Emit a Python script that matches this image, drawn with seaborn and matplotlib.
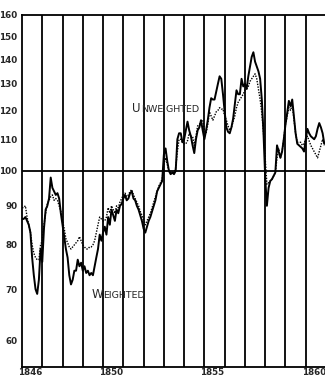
'''
Weighted vs unweighted price index, monthly 1846-1860 (log scale)
'''

import numpy as np
import pandas as pd
import matplotlib
matplotlib.use("Agg")
import matplotlib.pyplot as plt
import seaborn as sns

# monthly readings, Jan 1846 .. Dec 1860
weighted = [
    86.5, 86.5, 87, 86, 85, 83, 77, 73, 70, 69, 72, 79,            # 1846
    76, 84, 89, 90, 92, 98, 95, 94, 93, 93.5, 92, 88,              # 1847
    85, 82, 79, 77, 73, 71, 72, 74, 74, 76.5, 75, 75.8,            # 1848
    74, 75, 73.5, 74, 73, 73.5, 73, 75, 77, 79, 82.5, 81,          # 1849
    83, 84.5, 82.5, 87, 85, 89, 87.5, 86, 89, 88, 90, 90.5,        # 1850
    92, 93, 91.5, 92, 93.5, 94, 92, 91.5, 90, 89, 87.5, 86,        # 1851
    84, 83, 84.5, 86, 87, 88.5, 90, 91.5, 94, 95, 96, 97,          # 1852
    105, 107, 103, 100, 99, 99.5, 99, 100, 110, 112, 112, 109,     # 1853
    110, 113, 116, 113, 111, 108, 105.5, 110, 113, 114, 116.5, 113,  # 1854
    110, 113, 116.5, 121, 124.5, 124, 124, 127, 130, 133, 132, 126,  # 1855
    119.5, 114, 112.5, 112, 114, 117, 122, 127.5, 126, 126, 132, 129,  # 1856
    130, 128, 133, 137, 141, 143, 139, 137, 135, 132, 124, 112,    # 1857
    98, 90, 95, 97, 97.5, 98.5, 99.5, 108, 106, 104, 106, 110,     # 1858
    115, 119, 123.5, 121.5, 124, 118, 112, 108.5, 108, 107.5, 107, 106,  # 1859
    110, 113.5, 112, 111, 110.5, 110, 111, 113.5, 115.5, 114, 112, 108.5,  # 1860
]
unweighted = [
    89.5, 89.5, 90, 87, 85, 83, 80, 78, 77, 76.5, 76.5, 80,
    81, 85, 88, 90.5, 91.5, 92.5, 93, 91.5, 92, 91.5, 90, 88.5,
    86, 84, 81.5, 80.5, 79.5, 79, 79.5, 80, 80.5, 81, 82, 81,
    80, 79.5, 79, 79, 79.5, 79.5, 80, 81, 83, 85, 87, 86.5,
    86, 86, 87, 89.5, 88, 90, 89, 88, 90, 89.5, 91, 92,
    93, 93.5, 92.5, 93, 94, 94.5, 93, 92, 91, 90, 88.5, 87.5,
    86, 85, 86, 87, 88, 89.5, 91, 92.5, 94, 95.5, 96.5, 97.5,
    102, 104, 102, 100, 99.5, 99.5, 99.5, 101, 106, 110, 110, 109,
    108.5, 108.5, 109.5, 112, 111, 111, 108, 111, 114.5, 115, 116, 116.5,
    113, 112, 115, 119.5, 118, 116.5, 118, 119.5, 120, 121, 120.5, 120.5,
    118, 116.5, 114.5, 113, 114, 116, 118, 121, 123, 124, 125, 126,
    127.5, 128, 129, 131, 132, 133, 134, 132, 128, 124, 119, 112,
    104, 96, 96.5, 97, 97.5, 98.5, 99.5, 104, 107, 104, 106, 110,
    115, 118, 121, 120, 122, 117, 112, 109, 109, 109, 108, 108.5,
    110, 111, 109.5, 108, 107, 106, 105, 104, 106, 108, 110, 108,
]
start_year = 1846
y_ticks = [60, 70, 80, 90, 100, 110, 120, 130, 140, 150, 160]
year_labels = [1846, 1850, 1855, 1860]

t = start_year + np.arange(len(weighted)) / 12
df = pd.DataFrame({"date": np.concatenate([t, t]),
                   "index": weighted + unweighted,
                   "series": ["Weighted"] * len(t) + ["Unweighted"] * len(t)})

sns.set_style("white")
plt.rcParams["font.family"] = ["Liberation Sans Narrow", "DejaVu Sans"]

fig = plt.figure(figsize=(3.25, 3.79), dpi=100)
ax = fig.add_axes([22 / 325, 1 - 366.7 / 379, 304 / 325, (366.7 - 15) / 379])

# year grid and the 100 line
for yr in range(start_year + 1, start_year + 15):
    ax.axvline(yr, color="black", lw=1.3, zorder=1)
ax.axhline(100, color="black", lw=1.3, zorder=1)

sns.lineplot(data=df[df.series == "Unweighted"], x="date", y="index",
             color="black", lw=1.0, linestyle=(0, (1, 1)), ax=ax, zorder=3)
sns.lineplot(data=df[df.series == "Weighted"], x="date", y="index",
             color="black", lw=1.4, ax=ax, zorder=4)

ax.set_yscale("log")
ax.set_ylim(55.4, 160)
ax.set_xlim(start_year, start_year + 15)
ax.set_yticks(y_ticks)
ax.set_yticklabels([str(v) for v in y_ticks])
ax.yaxis.set_minor_locator(matplotlib.ticker.NullLocator())
ax.set_xticks([y + 0.4 for y in year_labels])
ax.set_xticklabels([str(y) for y in year_labels])
ax.tick_params(axis="y", direction="out", length=3, width=1, pad=0.5,
               labelsize=6.3, right=True)
ax.tick_params(axis="x", length=0, pad=1, labelsize=6.3)
for lab in ax.get_xticklabels() + ax.get_yticklabels():
    lab.set_fontweight("bold")
ax.set_xlabel("")
ax.set_ylabel("")
for s in ax.spines.values():
    s.set_linewidth(1.3)
    s.set_color("black")
if ax.get_legend():
    ax.get_legend().remove()

# small-caps labels
txt = dict(va="baseline", family=["DejaVu Sans"])
ax.text(1851.87, 119.4, "U", ha="right", fontsize=8.5, **txt)
ax.text(1851.87, 119.4, "NWEIGHTED", ha="left", fontsize=6.8, **txt)
ax.text(1850.0, 68.1, "W", ha="right", fontsize=8.5, **txt)
ax.text(1850.0, 68.1, "EIGHTED", ha="left", fontsize=6.8, **txt)

fig.savefig("out.png", dpi=100)
